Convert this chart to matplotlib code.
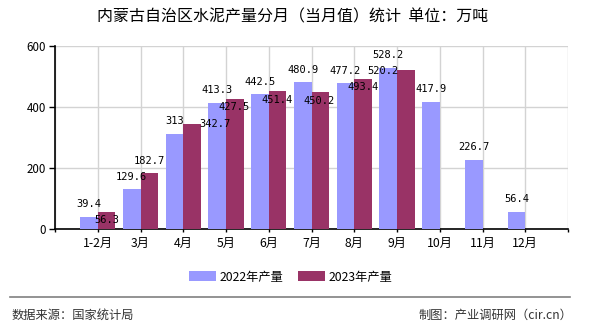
import matplotlib
matplotlib.use("Agg")
import matplotlib.pyplot as plt
import numpy as np

plt.rcParams['font.family'] = ['Noto Sans CJK SC', 'DejaVu Sans']

months = ["1-2月", "3月", "4月", "5月", "6月", "7月", "8月", "9月", "10月", "11月", "12月"]
output_2022 = [39.4, 129.6, 313, 413.3, 442.5, 480.9, 477.2, 528.2, 417.9, 226.7, 56.4]
output_2023 = [56.3, 182.7, 342.7, 427.5, 451.4, 450.2, 493.4, 520.2]
label_2022 = ["39.4", "129.6", "313", "413.3", "442.5", "480.9", "477.2", "528.2", "417.9", "226.7", "56.4"]
label_2023 = ["56.3", "182.7", "342.7", "427.5", "451.4", "450.2", "493.4", "520.2"]
# label shifts for 2023 (px) to dodge overlapping labels like the original
shift_2023 = [(0, -8), (0, 12), (23, 0), (-1, -8), (0, -9), (-1, -9), (0, -8), (-23, -1)]

_PX = 0.72
C2022 = "#9999FF"
C2023 = "#993366"

fig = plt.figure(figsize=(5.9, 3.3), dpi=100)
ax = fig.add_axes([55 / 590, 1 - 229 / 330, 513 / 590, 183 / 330])

pos = np.arange(1, len(months) + 1)
ax.bar(pos[:len(output_2022)], output_2022, width=-0.41, align='edge', color=C2022, zorder=3, label="2022年产量")
ax.bar(pos[:len(output_2023)], output_2023, width=0.41, align='edge', color=C2023, zorder=3, label="2023年产量")

num_font = ['DejaVu Sans Mono']
for i, v in enumerate(output_2022):
    ax.annotate(label_2022[i], (pos[i] - 0.205, v), xytext=(0, 12.5 * _PX), textcoords='offset points',
                ha='center', va='center', fontsize=7.5, family=num_font, zorder=5)
for i, v in enumerate(output_2023):
    dx, dy = shift_2023[i]
    ax.annotate(label_2023[i], (pos[i] + 0.205, v), xytext=(dx * _PX, dy * _PX), textcoords='offset points',
                ha='center', va='center', fontsize=7.5, family=num_font, zorder=5)

ax.set_xlim(0, 12)
ax.set_ylim(0, 600)
ax.set_xticks(np.arange(0, 13))
ax.set_xticklabels([""] + months + [""], fontsize=8.8)
ax.set_yticks([0, 200, 400, 600])
ax.tick_params(axis='x', length=2.5, width=1, pad=3)
ax.tick_params(axis='y', length=4.3, width=1, labelsize=8.3, pad=2)
ax.grid(True, color="#d3d3d3", linewidth=1, zorder=0)
ax.set_axisbelow(True)
for s in ['top', 'right']:
    ax.spines[s].set_visible(False)
for s in ['left', 'bottom']:
    ax.spines[s].set_color('black')
    ax.spines[s].set_linewidth(1.2)

fig.text(293 / 590, 1 - 17 / 330, "内蒙古自治区水泥产量分月（当月值）统计  单位：万吨",
         ha='center', va='center', fontsize=11.5)

fig.legend(loc='center', bbox_to_anchor=(291 / 590, 1 - 277 / 330), ncol=2, frameon=False,
           fontsize=8.8, handlelength=2.2, handleheight=0.9, handletextpad=0.3, columnspacing=1.2)

fig.add_artist(plt.Line2D([10 / 590, 570 / 590], [1 - 297 / 330, 1 - 297 / 330], color="#808080", linewidth=1.2))
fig.text(12 / 590, 1 - 315 / 330, "数据来源：国家统计局", ha='left', va='center', fontsize=8.8, color="#333333")
fig.text(572 / 590, 1 - 315 / 330, "制图：产业调研网（cir.cn）", ha='right', va='center', fontsize=8.8, color="#333333")

fig.savefig("out.png", dpi=100)
